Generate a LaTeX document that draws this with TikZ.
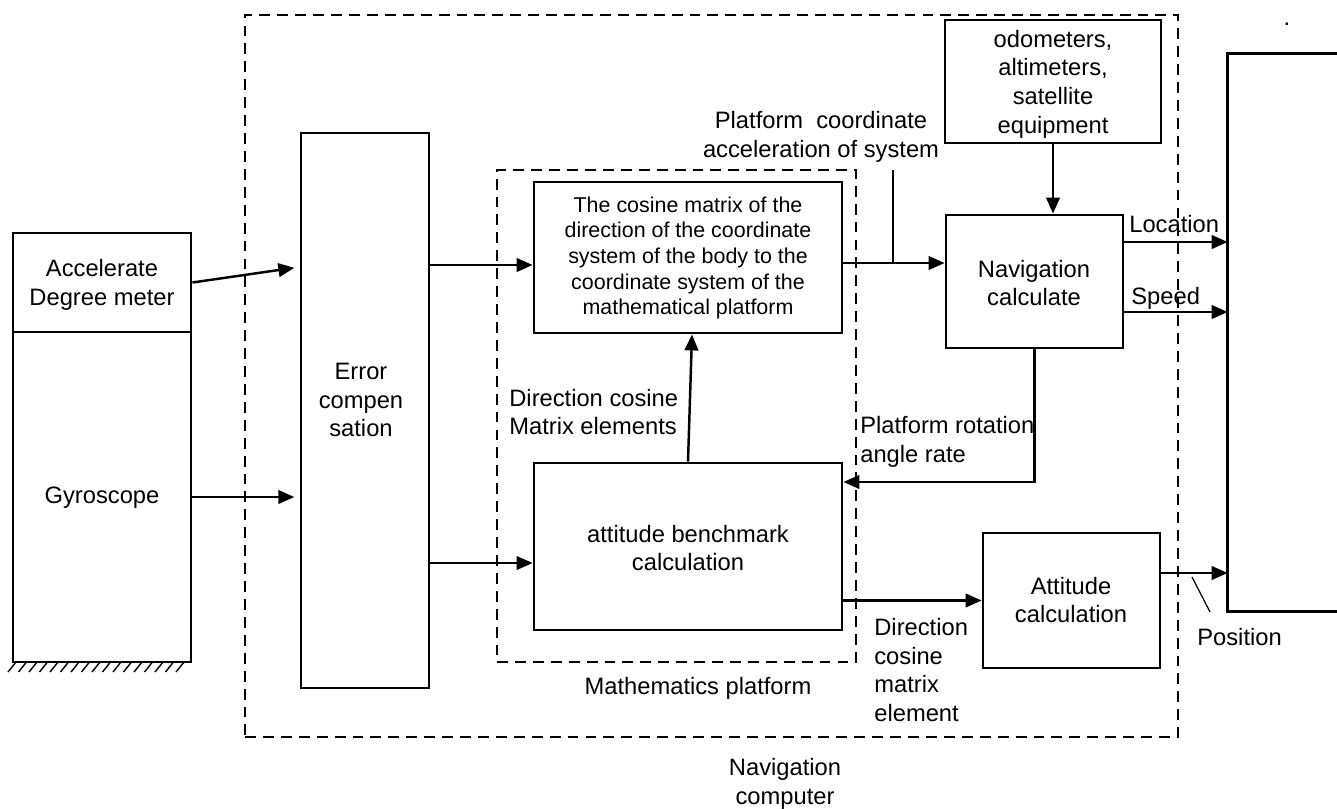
\documentclass[tikz,border=0pt]{standalone}
\usepackage{fontspec}
\setmainfont{Liberation Sans}
\usetikzlibrary{arrows.meta,fit,calc}
\begin{document}
\begin{tikzpicture}[x=0.02cm,y=-0.02cm,
  box/.style={draw,line width=1.6pt,inner sep=0pt},
  boxline/.style={line width=1.6pt},
  frame/.style={draw,line width=1.4pt,dash pattern=on 6.2pt off 4pt,inner sep=0pt},
  txt/.style={font=\fontsize{13.5}{16.3}\selectfont,align=center,inner sep=0pt},
  ltxt/.style={txt,align=left,anchor=west},
  small/.style={font=\fontsize{12.2}{14.6}\selectfont,align=center,inner sep=0pt},
  arr/.style={line width=1.4pt,-{Triangle[length=0.32cm,width=0.27cm]}},
  lead/.style={line width=0.7pt},
  hatch/.style={line width=0.8pt}]
\useasboundingbox (0,0) rectangle (1337,808);
% dashed frames
\node[frame, fit={(245,15)(1178,737)}] (navcomp) {};
\node[frame, fit={(497,170)(856,662)}] (mathplat) {};
% boxes
\node[box, fit={(13,233)(191,332)}] (acc) {};
\node[box, fit={(13,332)(191,662)}] (gyro) {};
\node[box, fit={(301,133)(429,688)}] (err) {};
\node[box, fit={(534,182)(842,333)}] (cos) {};
\node[box, fit={(534,463)(842,630)}] (att) {};
\node[box, fit={(946,215)(1123,348)}] (nav) {};
\node[box, fit={(945,20)(1161,143)}] (odo) {};
\node[box, fit={(983,533)(1160,668)}] (attc) {};
\node[inner sep=0pt, fit={(1228,54)(1337,611)}] (out) {};
\draw[boxline] (out.north east) -- (out.north west) -- (out.south west) -- (out.south east);
% hatching under the sensor block
\foreach \x in {8,18.5,...,178} \draw[hatch] (\x,672) -- (\x+8,662);
% box texts
\node[txt] (acctext) at (102,285) {Accelerate\\Degree meter};
\node[txt] (gyrotext) at (102,498) {Gyroscope};
\node[txt] (errtext) at (361,400) {Error\\compen\\sation};
\node[small] (costext) at (688,258) {The cosine matrix of the\\direction of the coordinate\\system of the body to the\\coordinate system of the\\mathematical platform};
\node[txt] (atttext) at (688,548) {attitude benchmark\\calculation};
\node[txt] (navtext) at (1034,283) {Navigation\\calculate};
\node[txt] (odotext) at (1053,84) {odometers,\\altimeters,\\satellite\\equipment};
\node[txt] (attctext) at (1071,600) {Attitude\\calculation};
% helper coordinates
\coordinate (y267) at (0,267);
\coordinate (y497) at (0,497);
\coordinate (y265) at (0,265);
\coordinate (y563) at (0,563);
\coordinate (y263) at (0,263);
\coordinate (y242) at (0,242);
\coordinate (y312) at (0,312);
\coordinate (y482) at (0,482);
\coordinate (y573) at (0,573);
\coordinate (lead1top) at (893,170);
\coordinate (lead2a) at (1192,577);
\coordinate (lead2b) at (1210,612);
% connectors
\draw[arr, shorten >=3pt] (acc.east) -- (err.west |- y267);
\draw[arr, shorten >=3pt] (gyro.east |- y497) -- (err.west |- y497);
\draw[arr] (err.east |- y265) -- (cos.west |- y265);
\draw[arr] (err.east |- y563) -- (att.west |- y563);
\draw[arr] (att.north) -- ($(cos.south)+(4,0)$);
\draw[arr] (cos.east |- y263) -- (nav.west |- y263);
\draw[lead] (lead1top) -- (lead1top |- y263);
\draw[arr] (odo.south) -- (odo.south |- nav.north);
\draw[arr] (nav.east |- y242) -- (out.west |- y242);
\draw[arr] (nav.east |- y312) -- (out.west |- y312);
\draw[arr] (nav.south) -- (nav.south |- y482) -- (att.east |- y482);
\draw[arr] (att.east |- attc.west) -- (attc.west);
\draw[arr] (attc.east |- y573) -- (out.west |- y573);
\draw[lead] (lead2a) -- (lead2b);
% labels
\node[txt] (lblacc) at (821,137) {Platform\ \ coordinate\\acceleration of system};
\node[txt, anchor=west] (lblloc) at (1129,224) {Location};
\node[txt, anchor=west] (lblspd) at (1131,298) {Speed};
\node[ltxt] (lbldcm) at (509,412) {Direction cosine\\Matrix elements};
\node[ltxt] (lblrot) at (860,442) {Platform rotation\\angle rate};
\node[ltxt] (lbldce) at (874,670) {Direction\\cosine\\matrix\\element};
\node[txt, anchor=west] (lblpos) at (1197,637) {Position};
\node[txt] (lblmath) at (698,688) {Mathematics platform};
\node[txt] (lblnavc) at (785,784) {Navigation\\computer};
\node[txt, anchor=base] (dot) at (1287,25) {.};
\end{tikzpicture}
\end{document}
